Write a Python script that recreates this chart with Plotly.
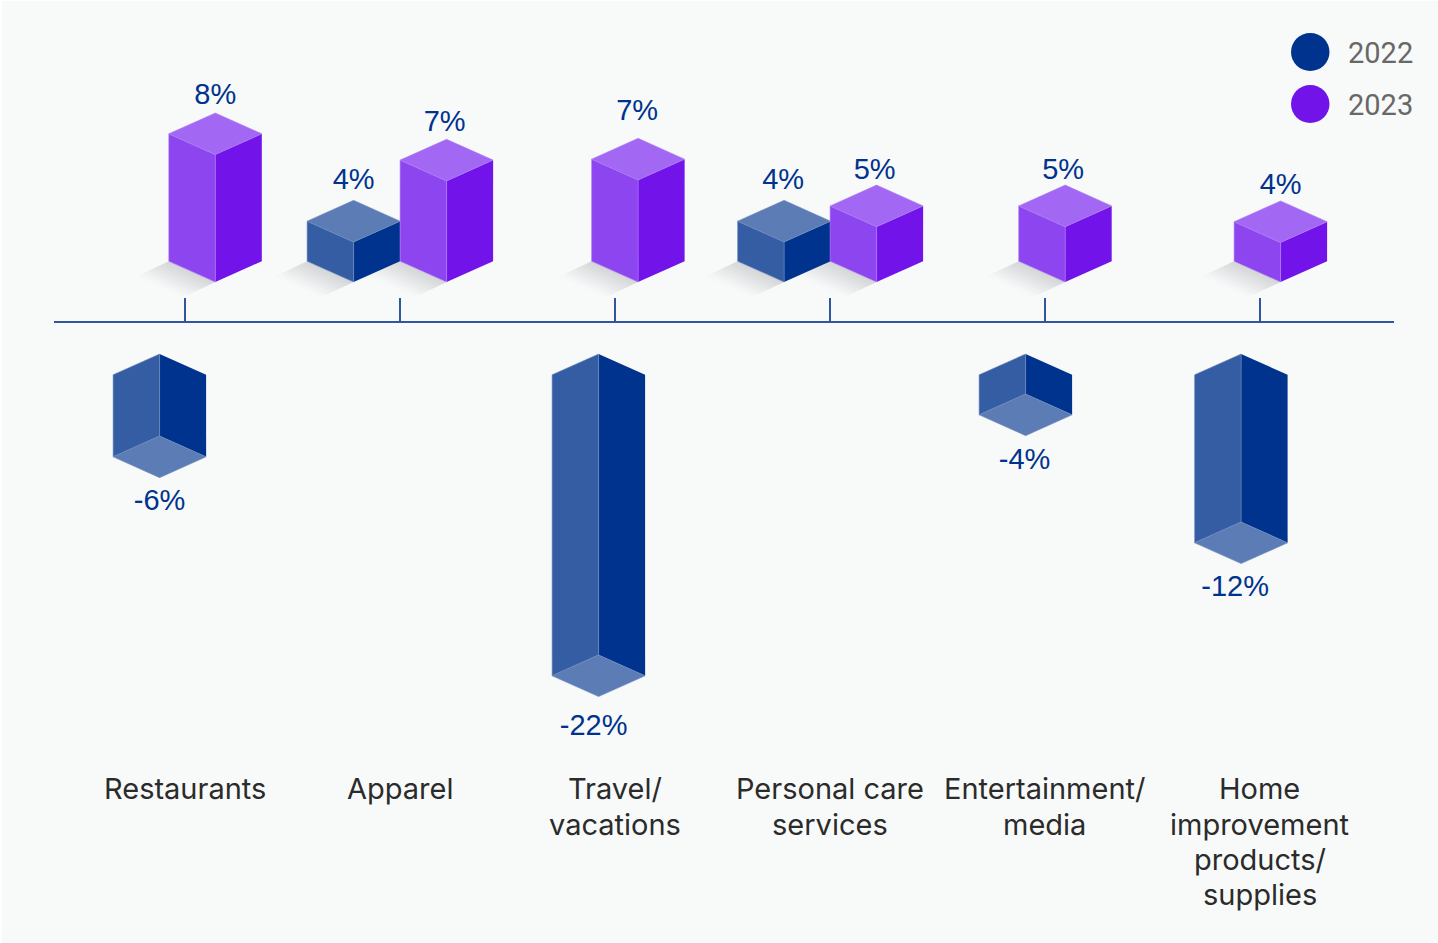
import plotly.graph_objects as go

categories = ["Restaurants", "Apparel", "Travel/<br>vacations", "Personal care<br>services",
              "Entertainment/<br>media", "Home<br>improvement<br>products/<br>supplies"]
# drawn bar heights, in percentage points of the 22% bar's scale
values_2022 = [-5.86, 2.86, -21.5, 2.86, -2.86, -12.0]
values_2023 = [9.1, 7.22, 7.29, 3.95, 3.95, 2.82]
labels_2022 = ["-6%", "4%", "-22%", "4%", "-4%", "-12%"]
labels_2023 = ["8%", "7%", "7%", "5%", "5%", "4%"]

W, H = 1438, 943
PX_X = 215.0  # px per category
PX_Y = 14.0   # px per y unit
AXIS_LEFT, AXIS_RIGHT, AXIS_Y, FIRST_TICK = 54, 1394, 322, 184.6

HALF_W = 46.5
DEPTH = 20.8
GAP_POS = 40  # gap between axis line and front bottom corner of positive bars
GAP_NEG = 32  # gap between axis line and back corner of negative bars

BG = "#f8fafa"
NAVY = "#00338d"
FACES = {
    "2022": dict(right="#00338d", left="#345da3", top="#5b7cb4", edge="#6f8abd"),
    "2023": dict(right="#7213ea", left="#8d45f0", top="#a267f3", edge="#ad7bf5"),
}

# where each bar sits relative to its tick, px
offset_2022 = [-25, -46, -16, -45.5, -19, -18.5]
offset_2023 = [30.7, 47, 23.5, 47, 20.6, 21]
# label tweaks: distance from bar tip and sideways shift, px
label_gap_2022 = [25.5, 18.5, 31.5, 18.5, 26.5, 25.5]
label_gap_2023 = [16.5, 16, 25.5, 13, 13, 14]
label_dx_2022 = [0, 0, -5, -1, -1, -6]
label_dx_2023 = [0, -2, -1, -2, -2, 0]


def dx(px):
    return px / PX_X


def dy(px):
    return px / PX_Y


def add_poly(fig, xs, ys, color, edge=None, name=None):
    fig.add_trace(go.Scatter(
        x=xs, y=ys, mode="lines", fill="toself", fillcolor=color,
        line=dict(color=edge or color, width=0.6 if edge else 0),
        hoverinfo="skip", showlegend=False, name=name,
    ))


def add_bar(fig, i, value, offset, faces, name):
    c = i + dx(offset)
    hw = dx(HALF_W)
    d = dy(DEPTH)
    if value >= 0:
        front0 = dy(GAP_POS)
        front1 = front0 + value
        add_poly(fig, [c, c + hw, c + hw, c, c], [front0, front0 + d, front1 + d, front1, front0], faces["right"], name=name)
        add_poly(fig, [c, c - hw, c - hw, c, c], [front0, front0 + d, front1 + d, front1, front0], faces["left"], faces["edge"], name)
        add_poly(fig, [c, c + hw, c, c - hw, c], [front1, front1 + d, front1 + 2 * d, front1 + d, front1], faces["top"], faces["edge"], name)
    else:
        back0 = -dy(GAP_NEG)
        back1 = back0 + value
        add_poly(fig, [c, c + hw, c + hw, c, c], [back0, back0 - d, back1 - d, back1, back0], faces["right"], name=name)
        add_poly(fig, [c, c - hw, c - hw, c, c], [back0, back0 - d, back1 - d, back1, back0], faces["left"], faces["edge"], name)
        add_poly(fig, [c, c + hw, c, c - hw, c], [back1, back1 - d, back1 - 2 * d, back1 - d, back1], faces["top"], faces["edge"], name)


def mix(a, b, t):
    ca = [int(a[k:k + 2], 16) for k in (1, 3, 5)]
    cb = [int(b[k:k + 2], 16) for k in (1, 3, 5)]
    return "rgb({},{},{})".format(*[round(p + (q - p) * t) for p, q in zip(ca, cb)])


def add_shadows(fig, centres, steps=12):
    # soft shadow on the floor: bands fading away from the bar's lower left edge
    for s in range(steps):
        t0, t1 = s / steps, (s + 1.15) / steps
        xs, ys = [], []
        for c in centres:
            for px, py in [(c - dx(HALF_W) - dx(32) * t0, dy(GAP_POS + DEPTH) - dy(15) * t0),
                           (c - dx(32) * t0, dy(GAP_POS) - dy(15) * t0),
                           (c - dx(32) * t1, dy(GAP_POS) - dy(15) * t1),
                           (c - dx(HALF_W) - dx(32) * t1, dy(GAP_POS + DEPTH) - dy(15) * t1),
                           (c - dx(HALF_W) - dx(32) * t0, dy(GAP_POS + DEPTH) - dy(15) * t0)]:
                xs.append(px)
                ys.append(py)
            xs.append(None)
            ys.append(None)
        add_poly(fig, xs, ys, mix("#d3d4d6", BG, (s + 0.5) / steps))


fig = go.Figure()

centres = []
for i in range(len(categories)):
    for val, off in [(values_2022[i], offset_2022[i]), (values_2023[i], offset_2023[i])]:
        if val > 0:
            centres.append(i + dx(off))
add_shadows(fig, centres)

for i in range(len(categories)):
    add_bar(fig, i, values_2022[i], offset_2022[i], FACES["2022"], "2022")
    add_bar(fig, i, values_2023[i], offset_2023[i], FACES["2023"], "2023")

# value labels
lab_x, lab_y, lab_t = [], [], []
for vals, offs, labs, gaps, nudges in [(values_2022, offset_2022, labels_2022, label_gap_2022, label_dx_2022),
                                       (values_2023, offset_2023, labels_2023, label_gap_2023, label_dx_2023)]:
    for i, v in enumerate(vals):
        lab_x.append(i + dx(offs[i] + nudges[i]))
        if v >= 0:
            lab_y.append(dy(GAP_POS + 2 * DEPTH + gaps[i]) + v)
        else:
            lab_y.append(-dy(GAP_NEG + 2 * DEPTH + gaps[i]) + v)
        lab_t.append(labs[i])
fig.add_trace(go.Scatter(
    x=lab_x, y=lab_y, text=lab_t, mode="text", textposition="middle center",
    textfont=dict(family="Liberation Sans", size=29, color=NAVY),
    hoverinfo="skip", showlegend=False,
))

# category names, one annotation per line so the leading can be set
LINE_Y = [788, 824, 859, 894]
for i, cat in enumerate(categories):
    for j, line in enumerate(cat.split("<br>")):
        fig.add_annotation(
            x=i, xref="x", y=1 - LINE_Y[j] / H, yref="paper", text=line, showarrow=False,
            xanchor="center", yanchor="middle",
            font=dict(family="Inter", size=29, color="#2b2b2b"),
        )

# legend
shapes = [dict(type="rect", xref="paper", yref="paper", x0=2 / W, x1=1, y0=0, y1=0.999,
               fillcolor=BG, line_width=0, layer="below")]
for yc, year in [(52, "2022"), (104, "2023")]:
    shapes.append(dict(type="circle", xref="paper", yref="paper", layer="above", line_width=0,
                       x0=1291 / W, x1=1329.5 / W, y0=1 - (yc + 19) / H, y1=1 - (yc - 19) / H,
                       fillcolor=FACES[year]["right"]))
    fig.add_annotation(
        x=1346 / W, xref="paper", y=1 - (yc + 1) / H, yref="paper", text=year, showarrow=False,
        xanchor="left", yanchor="middle",
        font=dict(family="Roboto", size=29, color="#686868"),
    )

fig.update_layout(
    width=W, height=H,
    margin=dict(l=0, r=0, t=0, b=0),
    paper_bgcolor="white",
    plot_bgcolor="rgba(0,0,0,0)",
    showlegend=False,
    shapes=shapes,
    xaxis=dict(
        domain=[AXIS_LEFT / W, AXIS_RIGHT / W],
        range=[-(FIRST_TICK - AXIS_LEFT) / PX_X, (AXIS_RIGHT - FIRST_TICK) / PX_X],
        anchor="free", position=1 - AXIS_Y / H,
        tickvals=list(range(len(categories))), showticklabels=False,
        ticks="inside", ticklen=23, tickwidth=1.5, tickcolor="#2f57a0",
        showline=True, linecolor="#2f57a0", linewidth=1.5,
        showgrid=False, zeroline=False,
    ),
    yaxis=dict(
        domain=[0, 1],
        range=[-(H - AXIS_Y) / PX_Y, AXIS_Y / PX_Y],
        visible=False, showgrid=False, zeroline=False,
    ),
)

fig.write_html("out.html", config={"displayModeBar": False},
               post_script="document.body.style.margin='0';document.body.style.overflow='hidden';")
